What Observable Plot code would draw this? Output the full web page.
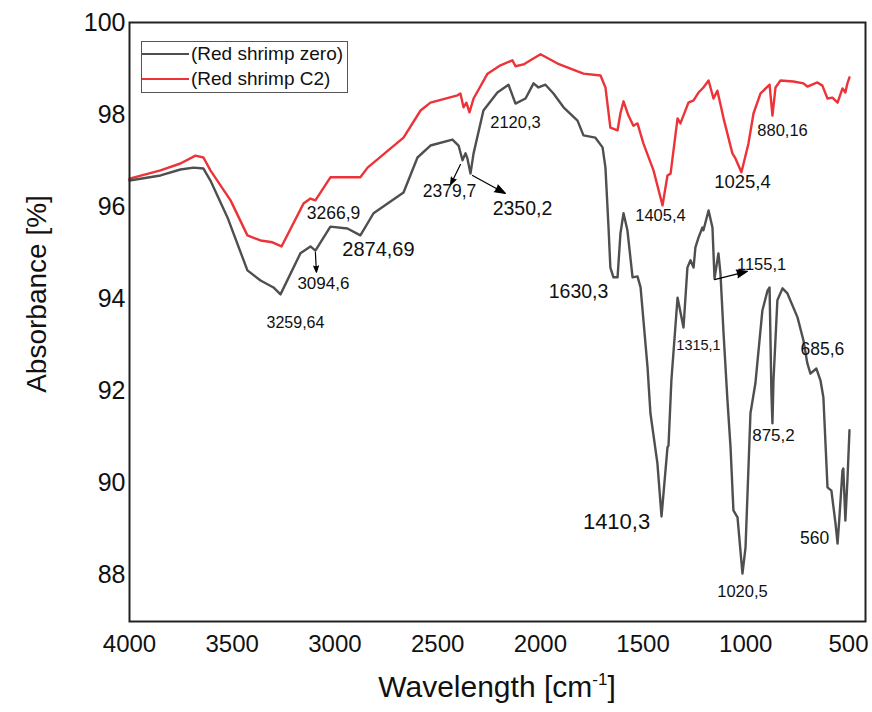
<!DOCTYPE html>
<html>
<head>
<meta charset="utf-8">
<script src="https://cdn.jsdelivr.net/npm/d3@7"></script>
<script src="https://cdn.jsdelivr.net/npm/@observablehq/plot@0.6"></script>
<style>
  body { margin: 0; background: #fff; font-family: "Liberation Sans", Arial, sans-serif; }
  #wrap { position: relative; width: 872px; height: 712px; }
  #wrap svg { position: absolute; left: 0; top: 0; }
  .legend { position: absolute; left: 141px; top: 41px; width: 205px; height: 50px; border: 1px solid #555; background: #fff; }
  .row { position: absolute; left: 0; height: 24px; display: flex; align-items: center; font-size: 19px; color: #111; white-space: nowrap; }
  .swatch { width: 47px; height: 2px; margin-right: 2px; }
  .xtitle { position: absolute; left: 129px; width: 736px; top: 670px; text-align: center; font-size: 30px; color: #111; }
  .xtitle sup { font-size: 17px; vertical-align: 0; position: relative; top: -12px; }
  .ytitle { position: absolute; left: 37px; top: 294px; transform: translate(-50%, -50%) rotate(-90deg); font-size: 28px; white-space: nowrap; color: #111; }
</style>
</head>
<body>
<div id="wrap"></div>
<script>
// ---- data ----
const seriesNames = ["(Red shrimp zero)", "(Red shrimp C2)"];

const zeroWave = [
  4000, 3849, 3752, 3688, 3640, 3606, 3523, 3426, 3362, 3299,
  3265, 3168, 3119, 3095, 3022, 2939, 2876, 2812, 2666, 2598,
  2535, 2428, 2398, 2379, 2364, 2355, 2340, 2325, 2277, 2209,
  2155, 2121, 2072, 2033, 2009, 1975, 1936, 1887, 1819, 1790,
  1732, 1697, 1683, 1668, 1659, 1644, 1624, 1610, 1595, 1576,
  1551, 1527, 1512, 1478, 1464, 1430, 1410, 1381, 1376, 1362,
  1332, 1303, 1284, 1269, 1254, 1245, 1230, 1211, 1206, 1181,
  1162, 1152, 1133, 1123, 1108, 1089, 1074, 1060, 1040, 1016,
  1001, 977, 953, 919, 894, 884, 875, 870, 865, 846,
  821, 797, 748, 719, 700, 685, 656, 636, 622, 602,
  583, 563, 553, 544, 529, 525, 515, 505, 495
];
const zeroAbs = [
  96.57, 96.68, 96.81, 96.85, 96.83, 96.57, 95.77, 94.62, 94.40, 94.25,
  94.10, 94.99, 95.14, 95.05, 95.57, 95.53, 95.38, 95.86, 96.31, 97.07,
  97.33, 97.46, 97.33, 97.01, 97.16, 97.05, 96.72, 97.16, 98.09, 98.48,
  98.65, 98.24, 98.35, 98.68, 98.59, 98.65, 98.46, 98.16, 97.87, 97.55,
  97.50, 97.29, 96.85, 95.55, 94.68, 94.47, 94.47, 95.42, 95.86, 95.49,
  94.47, 94.49, 94.25, 92.51, 91.52, 90.43, 89.28, 90.78, 90.82, 92.23,
  94.03, 93.38, 94.68, 94.84, 94.68, 95.12, 95.33, 95.55, 95.49, 95.92,
  95.55, 94.44, 94.99, 94.55, 93.25, 91.80, 90.78, 89.41, 89.26, 88.04,
  88.61, 91.52, 92.17, 93.75, 94.18, 94.25, 91.95, 91.30, 92.23, 93.97,
  94.23, 94.12, 93.60, 93.10, 92.60, 92.38, 92.49, 92.23, 91.86, 89.91,
  89.84, 89.13, 88.69, 89.26, 90.28, 90.32, 89.19, 90.06, 91.15
];

const c2Wave = [
  4000, 3849, 3752, 3679, 3640, 3606, 3508, 3426, 3362, 3304,
  3260, 3153, 3119, 3095, 3022, 2876, 2841, 2666, 2583, 2535,
  2403, 2389, 2374, 2360, 2345, 2325, 2257, 2194, 2136, 2121,
  2082, 2048, 1999, 1916, 1790, 1707, 1683, 1659, 1624, 1610,
  1595, 1571, 1547, 1527, 1498, 1449, 1405, 1381, 1366, 1332,
  1318, 1279, 1254, 1230, 1206, 1181, 1157, 1138, 1108, 1065,
  1050, 1021, 987, 962, 928, 884, 870, 855, 831, 768,
  719, 700, 651, 627, 602, 578, 553, 529, 515, 505,
  495
];
const c2Abs = [
  96.61, 96.79, 96.94, 97.11, 97.07, 96.79, 96.14, 95.38, 95.27, 95.23,
  95.14, 96.07, 96.18, 96.14, 96.64, 96.64, 96.85, 97.50, 98.09, 98.26,
  98.42, 98.46, 98.16, 98.26, 98.05, 98.35, 98.89, 99.07, 99.18, 99.05,
  99.09, 99.18, 99.31, 99.11, 98.89, 98.85, 98.59, 97.72, 97.66, 98.03,
  98.29, 97.98, 97.76, 97.81, 97.37, 96.79, 96.03, 96.68, 96.72, 97.92,
  97.81, 98.26, 98.31, 98.48, 98.59, 98.74, 98.35, 98.52, 97.92, 97.16,
  97.05, 96.75, 97.37, 98.03, 98.46, 98.65, 97.98, 98.59, 98.74, 98.72,
  98.68, 98.61, 98.70, 98.63, 98.35, 98.37, 98.26, 98.57, 98.48, 98.68,
  98.81
];

const xTicks = [4000, 3500, 3000, 2500, 2000, 1500, 1000, 500];
const yTicks = [88, 90, 92, 94, 96, 98, 100];

// peak annotations
const annLabel = ["3259,64", "3266,9", "3094,6", "2874,69", "2379,7", "2350,2", "2120,3", "1630,3", "1405,4",
                  "1025,4", "880,16", "1155,1", "1315,1", "685,6", "875,2", "1410,3", "1020,5", "560"];
const annWave  = [3192, 3007, 3056, 2788, 2442, 2087, 2121, 1814, 1415,
                  1016, 821, 923, 1230, 627, 865, 1629, 1016, 665];
const annAbs   = [93.49, 95.86, 94.34, 95.07, 96.33, 95.96, 97.83, 94.16, 95.81,
                  96.53, 97.66, 94.75, 92.99, 92.90, 91.04, 89.15, 87.65, 88.80];

// pointer arrows (from peak to label)
const arrWave1 = [3095, 2389, 2330, 1152];
const arrAbs1  = [95.01, 96.92, 96.68, 94.42];
const arrWave2 = [3090, 2437, 2170, 992];
const arrAbs2  = [94.58, 96.48, 96.29, 94.60];

// ---- styling (not data) ----
const annFont = [16, 17.5, 17, 20, 17.5, 19.5, 16.5, 19.5, 16.5, 18.5, 16.5, 16.5, 14.5, 17.5, 17, 22, 16.5, 17.5];
const colors = ["#4f4f4f", "#ec3338"];

const zero = zeroWave.map((w, i) => ({w, a: zeroAbs[i]}));
const c2 = c2Wave.map((w, i) => ({w, a: c2Abs[i]}));
const ann = annLabel.map((t, i) => ({t, w: annWave[i], a: annAbs[i], fs: annFont[i]}));
const arr = arrWave1.map((w, i) => ({x1: w, y1: arrAbs1[i], x2: arrWave2[i], y2: arrAbs2[i]}));

const plot = Plot.plot({
  width: 872,
  height: 712,
  marginLeft: 129,
  marginRight: 7,
  marginTop: 22,
  marginBottom: 91,
  style: {fontFamily: "Liberation Sans, Arial, sans-serif", color: "#111", background: "transparent"},
  x: {domain: [4000, 417], ticks: xTicks, tickSize: 0, tickPadding: 13, tickFormat: d => String(d), label: null},
  y: {domain: [87, 100], ticks: yTicks, tickSize: 0, tickPadding: 5, label: null},
  marks: [
    Plot.axisX({ticks: xTicks, tickSize: 0, tickPadding: 13, fontSize: 24, tickFormat: d => String(d), label: null}),
    Plot.axisY({ticks: yTicks, tickSize: 0, tickPadding: 4, fontSize: 25, label: null}),
    Plot.line(c2, {x: "w", y: "a", stroke: colors[1], strokeWidth: 2.4}),
    Plot.line(zero, {x: "w", y: "a", stroke: colors[0], strokeWidth: 2.4}),
    Plot.arrow(arr, {x1: "x1", y1: "y1", x2: "x2", y2: "y2", stroke: "#000", fill: "#000", strokeWidth: 1.2, headLength: 14, headAngle: 40}),
    Plot.text(ann, {x: "w", y: "a", text: "t", fontSize: "fs", fill: "#111"}),
    Plot.frame({stroke: "#222", strokeWidth: 2})
  ]
});

const wrap = document.getElementById("wrap");
wrap.appendChild(plot);

const legend = document.createElement("div");
legend.className = "legend";
legend.innerHTML = seriesNames.map((n, i) =>
  `<div class="row" style="top:${i * 25}px"><div class="swatch" style="background:${colors[i]}"></div>${n}</div>`).join("");
wrap.appendChild(legend);

const xt = document.createElement("div");
xt.className = "xtitle";
xt.innerHTML = "Wavelength [cm<sup>-1</sup>]";
wrap.appendChild(xt);

const yt = document.createElement("div");
yt.className = "ytitle";
yt.textContent = "Absorbance [%]";
wrap.appendChild(yt);
</script>
</body>
</html>
